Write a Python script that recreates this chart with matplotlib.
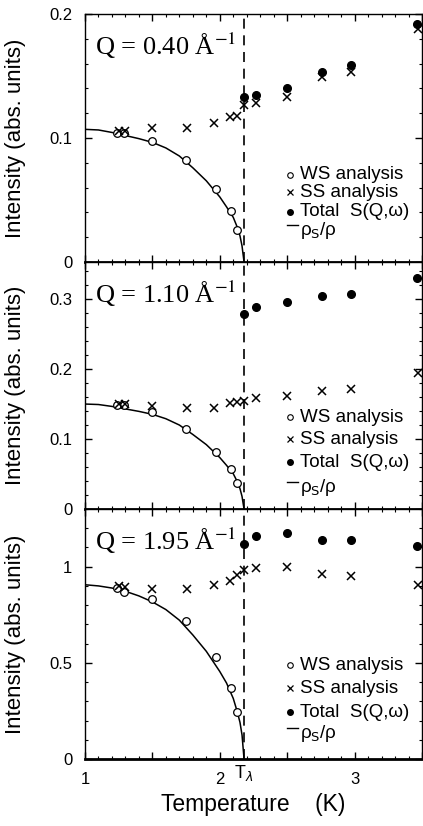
import matplotlib
matplotlib.use("Agg")
import matplotlib.pyplot as plt
from matplotlib.ticker import MultipleLocator, FuncFormatter

# temperatures (K)
T_lambda = 2.18
ws_T = [1.235, 1.29, 1.50, 1.75, 1.97, 2.08, 2.13]
ss_T = [1.25, 1.30, 1.50, 1.76, 1.96, 2.075, 2.125, 2.18, 2.27, 2.50, 2.76, 2.97, 3.47]
tot_T = [2.18, 2.27, 2.50, 2.76, 2.97, 3.46]
curve_T = [1.0, 1.1, 1.2, 1.3, 1.4, 1.5, 1.6, 1.7, 1.8, 1.9, 2.0, 2.05, 2.1, 2.13, 2.15, 2.165, 2.18]

# Q = 0.40
ws_040 = [0.104, 0.104, 0.098, 0.082, 0.059, 0.041, 0.026]
ss_040 = [0.106, 0.106, 0.108, 0.108, 0.112, 0.117, 0.118, 0.127, 0.128, 0.133, 0.149, 0.153, 0.188]
tot_040 = [0.133, 0.135, 0.140, 0.153, 0.159, 0.192]
rho_040 = [0.107, 0.1065, 0.1045, 0.102, 0.0995, 0.0965, 0.092, 0.0855, 0.076, 0.0655,
           0.0525, 0.0445, 0.036, 0.028, 0.021, 0.013, 0.0]

# Q = 1.10
ws_110 = [0.1486, 0.1486, 0.139, 0.115, 0.082, 0.057, 0.0367]
ss_110 = [0.150, 0.150, 0.147, 0.145, 0.145, 0.152, 0.153, 0.154, 0.158, 0.161, 0.168, 0.171, 0.194]
tot_110 = [0.279, 0.288, 0.296, 0.305, 0.307, 0.330]
rho_110 = [0.150, 0.1493, 0.1466, 0.143, 0.1395, 0.1353, 0.129, 0.120, 0.1065, 0.092,
           0.0735, 0.0624, 0.0504, 0.039, 0.029, 0.018, 0.0]

# Q = 1.95
ws_195 = [0.889, 0.866, 0.832, 0.715, 0.530, 0.368, 0.246]
ss_195 = [0.901, 0.894, 0.884, 0.886, 0.906, 0.924, 0.958, 0.982, 0.993, 0.998, 0.964, 0.953, 0.906]
tot_195 = [1.120, 1.158, 1.175, 1.137, 1.137, 1.109]
rho_195 = [0.906, 0.900, 0.889, 0.872, 0.848, 0.817, 0.777, 0.722, 0.645, 0.560,
           0.455, 0.395, 0.315, 0.245, 0.190, 0.125, 0.0]

panels = [
    ("Q = 0.40 Å$^{-1}$", ws_040, ss_040, tot_040, rho_040, 0.2, 0.1, 0.02,
     [0.351, 0.282, 0.202, 0.129]),
    ("Q = 1.10 Å$^{-1}$", ws_110, ss_110, tot_110, rho_110, 0.353, 0.1, 0.02,
     [0.372, 0.283, 0.190, 0.089]),
    ("Q = 1.95 Å$^{-1}$", ws_195, ss_195, tot_195, rho_195, 1.3, 0.5, 0.1,
     [0.376, 0.284, 0.188, 0.104]),
]

legend_labels = ["WS analysis", "SS analysis", "Total  S(Q,ω)", "ρ$_{\\rm S}$/ρ"]


def main():
    plt.rcParams["font.family"] = ["Liberation Sans", "DejaVu Sans"]
    fig = plt.figure(figsize=(4.23, 8.26), dpi=100)

    # axes boxes in figure fractions (top, middle, bottom)
    boxes = [(0.2009, 0.6828, 0.7967, 0.3002),
             (0.2009, 0.3838, 0.7967, 0.2990),
             (0.2009, 0.0811, 0.7967, 0.3027)]

    for i, (qlab, ws, ss, tot, rho, ytop, ymaj, ymin, leg_y) in enumerate(panels):
        ax = fig.add_axes(boxes[i])
        ax.set_xlim(1, 3.5)
        ax.set_ylim(0, ytop)

        ax.plot(curve_T, rho, color="k", lw=1.1)
        ax.plot(ws_T, ws, "o", mfc="white", mec="k", mew=0.9, ms=5.5)
        ax.plot(ss_T, ss, "x", color="k", mew=1.1, ms=5.5)
        ax.plot(tot_T, tot, "o", color="k", ms=5.5)
        ax.axvline(T_lambda, color="k", lw=1.2, ls=(0, (6, 4)))

        # frame
        for s in ["top", "left", "right"]:
            ax.spines[s].set_linewidth(1.0)
        ax.spines["bottom"].set_linewidth(2.0)

        ax.xaxis.set_major_locator(MultipleLocator(0.5))
        ax.xaxis.set_minor_locator(MultipleLocator(0.1))
        ax.yaxis.set_major_locator(MultipleLocator(ymaj))
        ax.yaxis.set_minor_locator(MultipleLocator(ymin))
        ax.tick_params(which="both", direction="in", top=True, right=True,
                       labelsize=12, pad=9)
        ax.tick_params(which="major", length=5, width=1.0)
        ax.tick_params(which="minor", length=2.5, width=0.8)
        ax.yaxis.set_major_formatter(FuncFormatter(lambda v, p: "%g" % round(v, 2)))

        if i < 2:
            ax.tick_params(labelbottom=False)
        else:
            ax.xaxis.set_major_formatter(
                FuncFormatter(lambda v, p: "%d" % v if abs(v - round(v)) < 1e-6 else ""))
            ax.text(T_lambda, -0.055, "T$_\\lambda$", transform=ax.get_xaxis_transform(),
                    ha="center", va="center", fontsize=13)
            ax.set_xlabel("Temperature    (K)", fontsize=16.5, labelpad=5)

        ax.set_ylabel("Intensity (abs. units)", fontsize=16)
        ax.yaxis.set_label_coords(-0.175, 0.5)

        ax.text(0.03, 0.835, qlab, transform=ax.transAxes, family="Liberation Serif",
                math_fontfamily="stix", fontsize=19, va="baseline")

        # legend drawn by hand, tight line spacing like the original
        mx, tx = 0.608, 0.638
        ax.plot(mx, leg_y[0], "o", mfc="white", mec="k", mew=0.8, ms=4,
                transform=ax.transAxes, clip_on=False)
        ax.plot(mx, leg_y[1], "x", color="k", mew=0.9, ms=4,
                transform=ax.transAxes, clip_on=False)
        ax.plot(mx, leg_y[2], "o", color="k", ms=4,
                transform=ax.transAxes, clip_on=False)
        ax.plot([0.600, 0.632], [leg_y[3] + 0.02] * 2, color="k", lw=1.0,
                transform=ax.transAxes)
        for y, lab in zip(leg_y, legend_labels):
            ax.text(tx, y, lab, transform=ax.transAxes, fontsize=13.5, va="center",
                    math_fontfamily="dejavusans")

    fig.savefig("out.png", dpi=100)


if __name__ == "__main__":
    main()
